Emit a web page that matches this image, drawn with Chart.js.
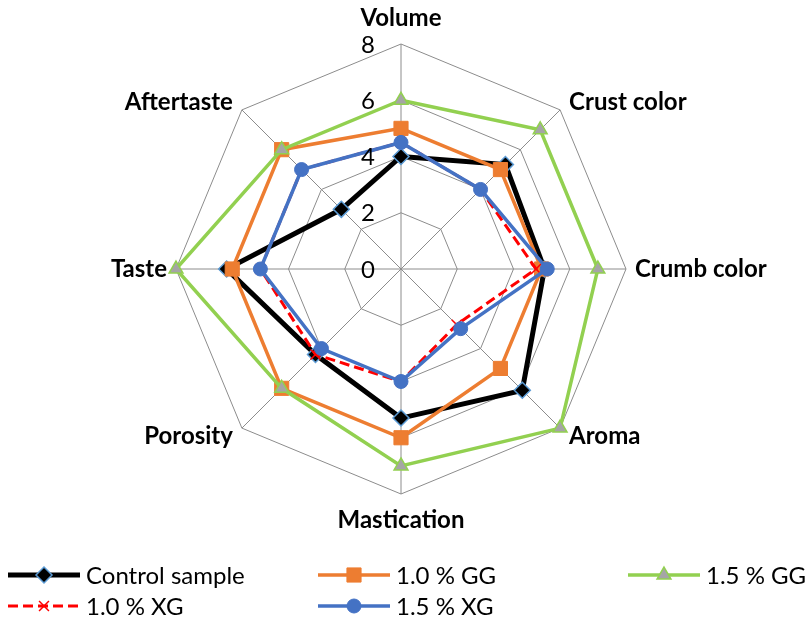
<!DOCTYPE html>
<html>
<head>
<meta charset="utf-8">
<script src="https://cdn.jsdelivr.net/npm/chart.js@4/dist/chart.umd.min.js"></script>
<style>
  html, body { margin: 0; padding: 0; background: #fff; }
  canvas { display: block; }
</style>
</head>
<body>
<canvas id="radar" width="806" height="623"></canvas>
<script>
// Sensory attributes (radar axes, clockwise from the top)
const categories = ['Volume', 'Crust color', 'Crumb color', 'Aroma', 'Mastication', 'Porosity', 'Taste', 'Aftertaste'];

// Scores per sample
const controlSample = [4, 5.25, 5.1, 6.1, 5.3, 4.3, 6.2, 3];
const gg10 = [5, 5, 5, 5, 6, 6, 6, 6];
const gg15 = [6, 7, 7, 8, 7, 6, 8, 6];
const xg10 = [4.5, 4, 4.8, 2.8, 4, 4.3, 5, 5];
const xg15 = [4.5, 4, 5.2, 3, 4, 4, 5, 5];

const seriesNames = ['Control sample', '1.0 % GG', '1.5 % GG', '1.0 % XG', '1.5 % XG'];
const tickValues = [0, 2, 4, 6, 8];

const FONT = 'Lato, "Open Sans", sans-serif';

const datasets = [
  {
    label: seriesNames[0], data: controlSample,
    borderColor: '#000000', borderWidth: 5,
    pointStyle: 'rectRot', pointRadius: 8,
    pointBackgroundColor: '#000000', pointBorderColor: '#5B9BD5', pointBorderWidth: 1.5
  },
  {
    label: seriesNames[1], data: gg10,
    borderColor: '#ED7D31', borderWidth: 3.5,
    pointStyle: 'rect', pointRadius: 10,
    pointBackgroundColor: '#ED7D31', pointBorderColor: '#ED7D31', pointBorderWidth: 1
  },
  {
    label: seriesNames[2], data: gg15,
    borderColor: '#92D050', borderWidth: 3.5,
    pointStyle: 'triangle', pointRadius: 8,
    pointBackgroundColor: '#A5A5A5', pointBorderColor: '#92D050', pointBorderWidth: 1.5
  },
  {
    label: seriesNames[3], data: xg10,
    borderColor: '#FF0000', borderWidth: 3, borderDash: [10, 5],
    pointStyle: 'crossRot', pointRadius: 7,
    pointBackgroundColor: '#FF0000', pointBorderColor: '#FF0000', pointBorderWidth: 1.5
  },
  {
    label: seriesNames[4], data: xg15,
    borderColor: '#4472C4', borderWidth: 3.5,
    pointStyle: 'circle', pointRadius: 7,
    pointBackgroundColor: '#4472C4', pointBorderColor: '#4472C4', pointBorderWidth: 1
  }
].map((ds, i) => Object.assign(ds, {
  fill: false, tension: 0, pointHoverRadius: ds.pointRadius,
  order: 10 - i  // later series are drawn on top
}));

// Axis labels, tick labels and the legend
const decorations = {
  id: 'decorations',
  afterDraw(chart) {
    const ctx = chart.ctx;
    const r = chart.scales.r;
    ctx.save();

    // point labels around the web
    ctx.font = 'bold 24px ' + FONT;
    ctx.fillStyle = '#000';
    ctx.textBaseline = 'middle';
    categories.forEach((name, i) => {
      const p = r.getPointPosition(i, r.drawingArea);
      const dx = p.x - r.xCenter, dy = p.y - r.yCenter;
      let x = p.x, y = p.y;
      if (Math.abs(dx) < 1) {
        ctx.textAlign = 'center';
        y += Math.sign(dy) * 26;
      } else {
        ctx.textAlign = dx > 0 ? 'left' : 'right';
        x += Math.sign(dx) * 9;
        if (Math.abs(dy) > 1) y += Math.sign(dy) * 8;
      }
      ctx.fillText(name, x, y);
    });

    // value ticks along the vertical axis
    ctx.font = '24px ' + FONT;
    ctx.textAlign = 'center';
    tickValues.forEach(v => {
      const y = r.yCenter - r.getDistanceFromCenterForValue(v);
      ctx.fillText(String(v), r.xCenter - 33, y + 1);
    });

    // legend: three columns, two rows
    chart.data.datasets.forEach((ds, i) => {
      const col = i % 3, row = Math.floor(i / 3);
      const x0 = 8 + col * 310;
      const y = 575 + row * 31;
      ctx.strokeStyle = ds.borderColor;
      ctx.lineWidth = ds.borderWidth;
      ctx.setLineDash(ds.borderDash || []);
      ctx.beginPath();
      ctx.moveTo(x0, y);
      ctx.lineTo(x0 + 72, y);
      ctx.stroke();
      ctx.setLineDash([]);
      ctx.fillStyle = ds.pointBackgroundColor;
      ctx.strokeStyle = ds.pointBorderColor;
      ctx.lineWidth = ds.pointBorderWidth;
      Chart.helpers.drawPoint(ctx, {
        pointStyle: ds.pointStyle, radius: ds.pointRadius, rotation: 0, borderWidth: ds.pointBorderWidth
      }, x0 + 36, y);
      ctx.fillStyle = '#000';
      ctx.font = '24px ' + FONT;
      ctx.textAlign = 'left';
      ctx.fillText(ds.label, x0 + 78, y + 1);
    });

    ctx.restore();
  }
};

new Chart(document.getElementById('radar'), {
  type: 'radar',
  data: { labels: categories, datasets },
  options: {
    responsive: false,
    animation: false,
    layout: { padding: { left: 176, right: 180, top: 44, bottom: 128 } },
    plugins: { legend: { display: false }, tooltip: { enabled: false } },
    scales: {
      r: {
        min: 0, max: 8,
        ticks: { display: false, stepSize: 2 },
        pointLabels: { display: false },
        grid: { color: '#8C8C8C', lineWidth: 1 },
        angleLines: { color: '#8C8C8C', lineWidth: 1 }
      }
    }
  },
  plugins: [decorations]
});
</script>
</body>
</html>
